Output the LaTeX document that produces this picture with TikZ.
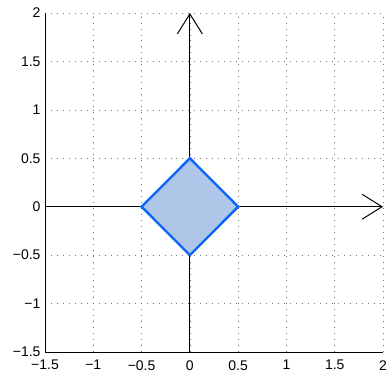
\documentclass[tikz,border=0pt]{standalone}
\usepackage{fontspec}
\setmainfont{Liberation Sans}
\usepackage{xcolor}
\usetikzlibrary{arrows.meta}
\definecolor{setfill}{RGB}{176,198,232}
\definecolor{setedge}{RGB}{10,102,250}

\begin{document}
\begin{tikzpicture}[x=96.6bp, y=96.9bp, every node/.style={font=\fontsize{14bp}{16bp}\selectfont, inner sep=0pt},
  gridline/.style={black!55, line width=0.6pt, dash pattern=on 0.8pt off 5.2pt},
  frame/.style={black, line width=0.8pt},
  arr/.style={-{Straight Barb[length=20bp, width=25bp, line width=1pt]}, line width=1pt},
  ball/.style={draw=setedge, fill=setfill, line width=2.4pt, line join=miter}]
\useasboundingbox (-1.966,-1.737) rectangle (2.062,2.134);
% grid
\foreach \v in {-1,-0.5,...,2} {
  \draw[gridline] (\v,-1.5) -- (\v,2);
  \draw[gridline] (-1.5,\v) -- (2,\v);
}
% axes box
\draw[frame] (-1.5,2) -- (-1.5,-1.5) -- (2,-1.5);
% tick labels
\foreach \v/\t [count=\i] in {-1.5/−1.5,-1/−1,-0.5/−0.5,0/0,0.5/0.5,1/1,1.5/1.5,2/2} {
  \node[anchor=north] (xt\i) at (\v,-1.583) {\t};
  \node[anchor=east] (yt\i) at (-1.545,\v) {\t};
}
% coordinate axes
\coordinate (xl) at (-1.5,0);
\coordinate (xr) at (2,0);
\coordinate (yb) at (0,-1.5);
\coordinate (yt) at (0,2);
\draw[arr] (xl) -- (xr);
\draw[arr] (yb) -- (yt);
% unit ball
\draw[ball] (0.5,0) -- (0,0.5) -- (-0.5,0) -- (0,-0.5) -- cycle;
\end{tikzpicture}
\end{document}
